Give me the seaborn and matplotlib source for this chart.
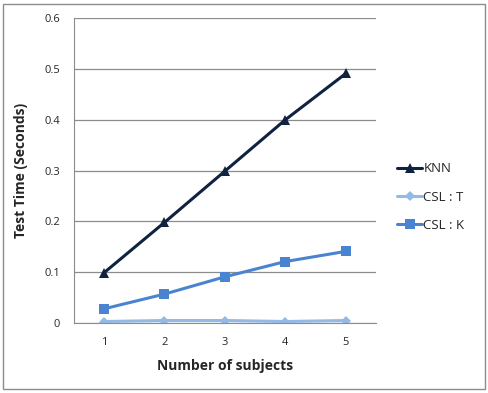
import pandas as pd
import matplotlib.pyplot as plt
import seaborn as sns
from matplotlib.patches import Rectangle

subjects = [1, 2, 3, 4, 5]
knn = [0.099, 0.198, 0.299, 0.400, 0.491]
csl_t = [0.003, 0.005, 0.005, 0.003, 0.005]
csl_k = [0.028, 0.057, 0.091, 0.121, 0.141]
series = ["KNN", "CSL : T", "CSL : K"]

df = pd.DataFrame({
    "subjects": subjects * 3,
    "time": knn + csl_t + csl_k,
    "method": [s for s in series for _ in subjects],
})

sns.set_style("white")
plt.rcParams["font.family"] = ["Open Sans", "DejaVu Sans"]

fig = plt.figure(figsize=(4.89, 3.93), dpi=100)
ax = fig.add_axes([0.151, 0.178, 0.618, 0.776])

palette = {"KNN": "#0f2340", "CSL : T": "#93b9e6", "CSL : K": "#4a84d0"}
markers = {"KNN": "^", "CSL : T": "D", "CSL : K": "s"}
sns.lineplot(data=df, x="subjects", y="time", hue="method", style="method",
             palette=palette, markers=markers, dashes=False, linewidth=2.2,
             markersize=7.5, markeredgewidth=0, ax=ax)
for line in ax.lines:
    if line.get_color() == "#93b9e6":
        line.set_markersize(5)

ax.set_xlim(0.5, 5.5)
ax.set_ylim(0, 0.6)
ax.set_xticks(subjects)
ax.set_yticks([0, 0.1, 0.2, 0.3, 0.4, 0.5, 0.6])
ax.set_yticklabels(["0", "0.1", "0.2", "0.3", "0.4", "0.5", "0.6"])
ax.yaxis.grid(True, color="#8c8c8c", linewidth=0.9)
ax.set_axisbelow(True)
for s in ["top", "right"]:
    ax.spines[s].set_visible(False)
for s in ["left", "bottom"]:
    ax.spines[s].set_color("#8c8c8c")
ax.tick_params(axis="both", labelsize=8, length=0, pad=10)
ax.set_xlabel("Number of subjects", fontsize=10, fontweight="bold", labelpad=8)
ax.set_ylabel("Test Time (Seconds)", fontsize=10, fontweight="bold", labelpad=12)

leg = ax.legend(loc="center left", bbox_to_anchor=(1.03, 0.413), frameon=False,
                fontsize=9.5, handlelength=1.9, handletextpad=0.1, labelspacing=1.15)

fig.patches.append(Rectangle((0.006, 0.01), 0.986, 0.98, transform=fig.transFigure,
                             fill=False, edgecolor="#8c8c8c", linewidth=1))

plt.savefig("out.png", dpi=100)
